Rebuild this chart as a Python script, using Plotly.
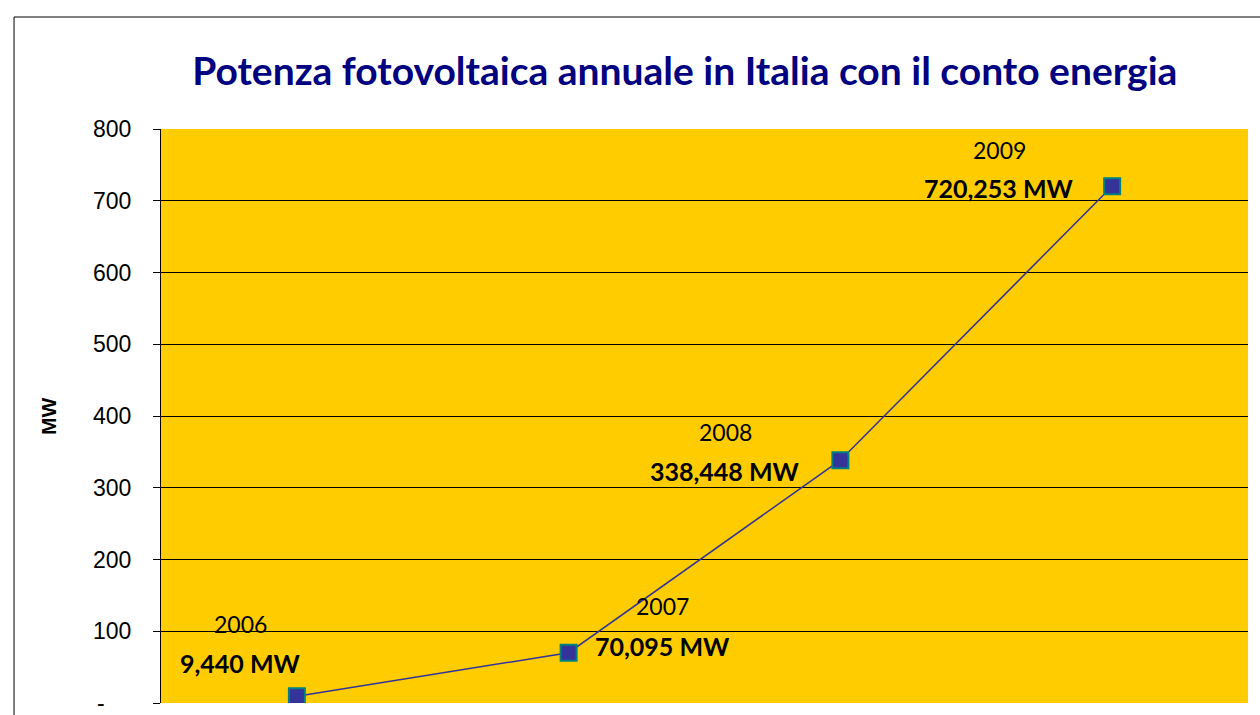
import plotly.graph_objects as go

years = ["2006", "2007", "2008", "2009"]
power_mw = [9.440, 70.095, 338.448, 720.253]
value_labels = ["9,440 MW", "70,095 MW", "338,448 MW", "720,253 MW"]
tick_vals = [0, 100, 200, 300, 400, 500, 600, 700, 800]
tick_text = ["", "100", "200", "300", "400", "500", "600", "700", "800"]
zero_label = "-"

# label offsets (pixels) relative to each point: (xshift, year yshift, value yshift)
offsets = [(-56, 72, 33), (94, 47, 7), (-115, 28, -11), (-113, 36, -2)]

fig = go.Figure()
fig.add_trace(go.Scatter(
    x=years, y=power_mw, mode="lines+markers",
    line=dict(color="#333399", width=1.5),
    marker=dict(symbol="square", size=16, color="#333399",
                line=dict(color="#008080", width=2)),
    showlegend=False, hoverinfo="skip",
))

annotations = []
for i, (yr, v, lab, (dx, dy1, dy2)) in enumerate(zip(years, power_mw, value_labels, offsets)):
    annotations.append(dict(x=i, y=v, xref="x", yref="y", text=yr, showarrow=False,
                            xshift=dx, yshift=dy1,
                            font=dict(family="Lato", size=23, color="black")))
    annotations.append(dict(x=i, y=v, xref="x", yref="y", text="<b>" + lab + "</b>",
                            showarrow=False, xshift=dx, yshift=dy2,
                            font=dict(family="Lato", size=25, color="black")))

annotations.append(dict(x=-0.104, y=0.5, xref="paper", yref="paper", text="<b>MW</b>",
                        textangle=-90, showarrow=False, xanchor="center", yanchor="middle",
                        font=dict(family="Liberation Sans", size=21, color="black")))
annotations.append(dict(x=-0.0552, y=tick_vals[0], xref="paper", yref="y", text=zero_label,
                        showarrow=False, xanchor="center", yanchor="middle",
                        font=dict(family="Liberation Sans", size=23, color="black")))

fig.update_layout(
    width=1260, height=715,
    margin=dict(l=161, r=12, t=129, b=12),
    paper_bgcolor="white",
    plot_bgcolor="#FFCC00",
    title=dict(text="<b>Potenza fotovoltaica annuale in Italia con il conto energia</b>",
               x=0.5435, xanchor="center", y=0.9, yanchor="middle",
               font=dict(family="Lato", size=39, color="#000080")),
    xaxis=dict(type="category", range=[-0.5, 3.5], showticklabels=False,
               showgrid=False, zeroline=False, showline=False, ticks=""),
    yaxis=dict(range=[0, 800], tickvals=tick_vals, ticktext=tick_text,
               showgrid=True, gridcolor="black", gridwidth=1, zeroline=False,
               showline=True, linecolor="black", linewidth=1,
               ticks="outside", ticklen=7, tickcolor="black", ticklabelstandoff=17,
               tickfont=dict(family="Liberation Sans", size=23, color="black")),
    annotations=annotations,
    shapes=[dict(type="rect", xref="paper", yref="paper",
                 x0=-0.1352, x1=1.05, y0=-0.2, y1=1.1951,
                 line=dict(color="black", width=1), fillcolor="rgba(0,0,0,0)",
                 layer="below")],
)

fig.write_html("out.html", config={"displayModeBar": False},
               post_script="document.body.style.margin='0';document.body.style.padding='0';")
